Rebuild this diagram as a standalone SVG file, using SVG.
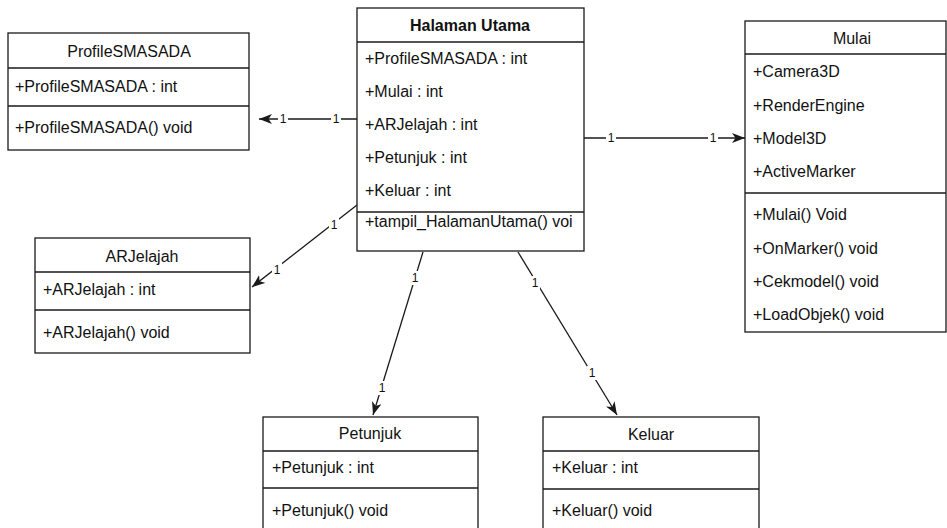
<svg xmlns="http://www.w3.org/2000/svg" width="947" height="528" viewBox="0 0 947 528">
<defs>
<style>
.box{fill:#fff;stroke:#1a1a1a;stroke-width:1.3}
.ln{stroke:#1a1a1a;stroke-width:1.3;fill:none}
.t{font-family:"Liberation Sans",Arial,sans-serif;font-size:16px;fill:#111}
.tc{text-anchor:middle}
.b{font-weight:bold}
.lbl{font-family:"Liberation Sans",Arial,sans-serif;font-size:12px;fill:#111;text-anchor:middle}
.lb{fill:#fff}
.edge{stroke:#1a1a1a;stroke-width:1.3;fill:none;marker-end:url(#arr)}
</style>
<marker id="arr" markerUnits="userSpaceOnUse" markerWidth="14" markerHeight="12" refX="13" refY="5" orient="auto">
<path d="M0,0 L13,5 L0,10 L3.5,5 Z" fill="#1a1a1a"/>
</marker>
<clipPath id="cMain"><rect x="357" y="8" width="227" height="243"/></clipPath>
</defs>
<rect width="947" height="528" fill="#fff"/>

<g id="connectors">
<line class="edge" x1="357" y1="119" x2="259" y2="119"/>
<line class="edge" x1="584" y1="138" x2="745" y2="138"/>
<line class="edge" x1="357" y1="205" x2="252" y2="287"/>
<line class="edge" x1="423" y1="252" x2="373" y2="415"/>
<line class="edge" x1="518" y1="252" x2="617" y2="415"/>
<g>
<rect class="lb" x="278" y="112" width="10" height="14"/><text class="lbl" x="283" y="123">1</text>
<rect class="lb" x="331" y="112" width="10" height="14"/><text class="lbl" x="336" y="123">1</text>
<rect class="lb" x="606" y="131" width="10" height="14"/><text class="lbl" x="611" y="142">1</text>
<rect class="lb" x="708" y="131" width="10" height="14"/><text class="lbl" x="713" y="142">1</text>
<rect class="lb" x="329" y="218" width="10" height="14"/><text class="lbl" x="334" y="229">1</text>
<rect class="lb" x="272" y="263" width="10" height="14"/><text class="lbl" x="277" y="274">1</text>
<rect class="lb" x="410" y="271" width="10" height="14"/><text class="lbl" x="415" y="282">1</text>
<rect class="lb" x="377" y="381" width="10" height="14"/><text class="lbl" x="382" y="392">1</text>
<rect class="lb" x="530" y="276" width="10" height="14"/><text class="lbl" x="535" y="287">1</text>
<rect class="lb" x="587" y="366" width="10" height="14"/><text class="lbl" x="592" y="377">1</text>
</g>
</g>

<g id="halaman-utama">
<rect class="box" x="357" y="8" width="227" height="243"/>
<line class="ln" x1="357" y1="42" x2="584" y2="42"/>
<line class="ln" x1="357" y1="212" x2="584" y2="212"/>
<text class="t tc b" x="470" y="31">Halaman Utama</text>
<g clip-path="url(#cMain)">
<text class="t" x="365" y="64">+ProfileSMASADA : int</text>
<text class="t" x="365" y="97">+Mulai : int</text>
<text class="t" x="365" y="130">+ARJelajah : int</text>
<text class="t" x="365" y="163">+Petunjuk  : int</text>
<text class="t" x="365" y="196">+Keluar : int</text>
<text class="t" x="365" y="227">+tampil_HalamanUtama() voi</text>
</g>
</g>

<g id="profile">
<rect class="box" x="8" y="33" width="241" height="117"/>
<line class="ln" x1="8" y1="68" x2="249" y2="68"/>
<line class="ln" x1="8" y1="106" x2="249" y2="106"/>
<text class="t tc" x="129" y="57">ProfileSMASADA</text>
<text class="t" x="15" y="92">+ProfileSMASADA : int</text>
<text class="t" x="15" y="133">+ProfileSMASADA() void</text>
</g>

<g id="mulai">
<rect class="box" x="745" y="21" width="201" height="311"/>
<line class="ln" x1="745" y1="54" x2="946" y2="54"/>
<line class="ln" x1="745" y1="193" x2="946" y2="193"/>
<text class="t tc" x="852" y="44">Mulai</text>
<text class="t" x="753" y="77">+Camera3D</text>
<text class="t" x="753" y="111">+RenderEngine</text>
<text class="t" x="753" y="144">+Model3D</text>
<text class="t" x="753" y="177">+ActiveMarker</text>
<text class="t" x="753" y="220">+Mulai() Void</text>
<text class="t" x="753" y="254">+OnMarker() void</text>
<text class="t" x="753" y="287">+Cekmodel() void</text>
<text class="t" x="753" y="320">+LoadObjek() void</text>
</g>

<g id="arjelajah">
<rect class="box" x="35" y="238" width="215" height="115"/>
<line class="ln" x1="35" y1="272" x2="250" y2="272"/>
<line class="ln" x1="35" y1="310" x2="250" y2="310"/>
<text class="t tc" x="142" y="262">ARJelajah</text>
<text class="t" x="43" y="295">+ARJelajah : int</text>
<text class="t" x="43" y="338">+ARJelajah() void</text>
</g>

<g id="petunjuk">
<rect class="box" x="263" y="417" width="215" height="125"/>
<line class="ln" x1="263" y1="451" x2="478" y2="451"/>
<line class="ln" x1="263" y1="488" x2="478" y2="488"/>
<text class="t tc" x="370" y="439">Petunjuk</text>
<text class="t" x="272" y="473">+Petunjuk : int</text>
<text class="t" x="272" y="516">+Petunjuk() void</text>
</g>

<g id="keluar">
<rect class="box" x="543" y="417" width="216" height="125"/>
<line class="ln" x1="543" y1="451" x2="759" y2="451"/>
<line class="ln" x1="543" y1="489" x2="759" y2="489"/>
<text class="t tc" x="651" y="440">Keluar</text>
<text class="t" x="552" y="473">+Keluar : int</text>
<text class="t" x="552" y="516">+Keluar() void</text>
</g>
</svg>
